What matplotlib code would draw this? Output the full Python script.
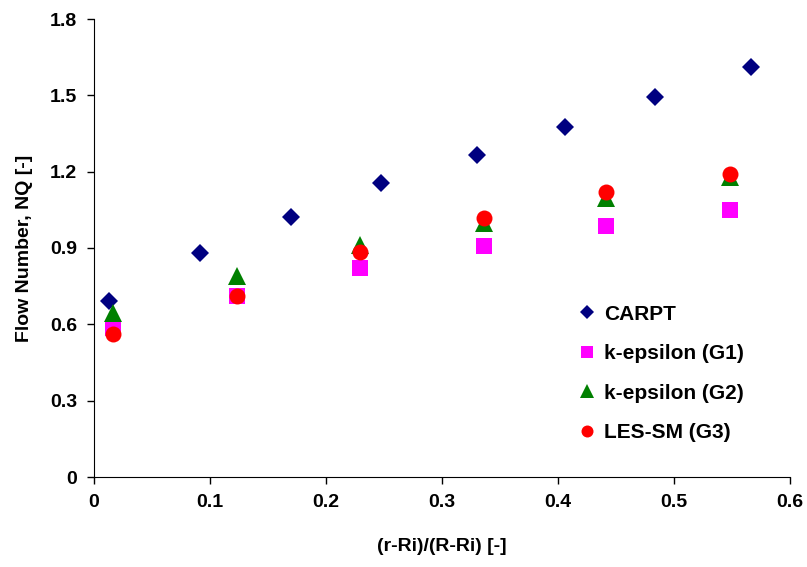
import matplotlib.pyplot as plt

plt.rcParams['font.family'] = ['Liberation Sans', 'DejaVu Sans']
plt.rcParams['font.weight'] = 'bold'

# CARPT measurements
x_carpt = [0.013, 0.091, 0.170, 0.247, 0.330, 0.406, 0.484, 0.566]
y_carpt = [0.692, 0.880, 1.022, 1.156, 1.266, 1.376, 1.494, 1.610]

# CFD radial positions
x_cfd = [0.016, 0.123, 0.229, 0.336, 0.441, 0.548]
y_g1 = [0.586, 0.711, 0.822, 0.908, 0.987, 1.050]
y_g2 = [0.645, 0.790, 0.912, 1.000, 1.097, 1.180]
y_g3 = [0.562, 0.711, 0.884, 1.018, 1.120, 1.191]

xticks = [0, 0.1, 0.2, 0.3, 0.4, 0.5, 0.6]
xticklabels = ['0', '0.1', '0.2', '0.3', '0.4', '0.5', '0.6']
yticks = [0, 0.3, 0.6, 0.9, 1.2, 1.5, 1.8]
yticklabels = ['0', '0.3', '0.6', '0.9', '1.2', '1.5', '1.8']

fig = plt.figure(figsize=(8.07, 5.67), dpi=100)
ax = fig.add_axes([94 / 807, 90 / 567, 696 / 807, 458 / 567])

ax.plot(x_carpt, y_carpt, 'D', color='#000080', ms=9.2, mew=0, label='CARPT')
ax.plot(x_cfd, y_g1, 's', color='#FF00FF', ms=11.5, mew=0, label='k-epsilon (G1)')
ax.plot(x_cfd, y_g2, '^', color='#008000', ms=13, mew=0, label='k-epsilon (G2)')
ax.plot(x_cfd, y_g3, 'o', color='#FF0000', ms=11.5, mew=0, label='LES-SM (G3)')

ax.set_xlim(0, 0.6)
ax.set_ylim(0, 1.8)
ax.set_xticks(xticks)
ax.set_xticklabels(xticklabels)
ax.set_yticks(yticks)
ax.set_yticklabels(yticklabels)
ax.tick_params(direction='out', length=5, width=1, labelsize=14, pad=7)
for s in ['top', 'right']:
    ax.spines[s].set_visible(False)

ax.set_xlabel('(r-Ri)/(R-Ri) [-]', fontsize=14, fontweight='bold', labelpad=20)
ax.set_ylabel('Flow Number, NQ [-]', fontsize=14, fontweight='bold', labelpad=12)

leg = ax.legend(loc='upper left', bbox_to_anchor=(560 / 807, 1 - 286 / 567),
                bbox_transform=fig.transFigure, frameon=False, fontsize=15,
                markerscale=0.75, handlelength=0.8, handletextpad=0.4,
                labelspacing=0.98)
for t in leg.get_texts():
    t.set_fontweight('bold')

plt.savefig('out.png', dpi=100)
